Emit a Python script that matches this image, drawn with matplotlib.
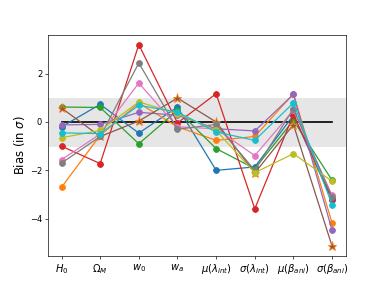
import numpy as np
import matplotlib
matplotlib.use('Agg')
import matplotlib.pyplot as plt

# parametri e bias (in sigma) per ciascun caso
params = [r'$H_0$', r'$\Omega_M$', r'$w_0$', r'$w_a$', r'$\mu(\lambda_{int})$',
          r'$\sigma(\lambda_{int})$', r'$\mu(\beta_{ani})$', r'$\sigma(\beta_{ani})$']

bias_blue   = [-0.20, 0.73, -0.46, 0.62, -2.00, -1.86, 0.28, -3.24]
bias_orange = [-2.70, -0.55, 0.78, -0.20, -0.76, -0.60, 1.17, -4.18]
bias_green  = [0.62, 0.60, -0.90, 0.48, -1.10, -1.93, 0.07, -2.41]
bias_red    = [-1.00, -1.72, 3.20, -0.04, 1.17, -3.59, 0.30, -3.17]
bias_purple = [-0.12, -0.10, 0.40, 0.28, -0.28, -0.37, 1.14, -4.48]
bias_brown  = [0.58, -0.60, 0.04, 0.99, 0.00, -2.11, -0.11, -5.14]
bias_pink   = [-1.56, -0.50, 1.61, -0.20, -0.28, -1.39, 0.48, -3.03]
bias_grey   = [-1.70, -0.60, 2.44, -0.30, -0.10, -2.00, 0.55, -3.10]
bias_olive  = [-0.65, -0.35, 0.83, 0.35, -0.35, -2.10, -1.31, -2.45]
bias_cyan   = [-0.45, -0.48, 0.69, 0.41, -0.41, -0.76, 0.79, -3.42]

all_bias = [bias_blue, bias_orange, bias_green, bias_red, bias_purple,
            bias_brown, bias_pink, bias_grey, bias_olive, bias_cyan]

x = np.arange(len(params))

fig, ax = plt.subplots(figsize=(6.4, 4.8), dpi=60)
ax.axhspan(-1, 1, color='0.9', zorder=0)
ax.plot([x[0], x[-1]], [0, 0], color='k', lw=2)

for i, b in enumerate(all_bias):
    if i == 5:
        ax.plot(x, b, '-*', color='C5', mfc='C5', mec='C1', ms=11, lw=1.5)
    else:
        ax.plot(x, b, '-o', color='C%d' % i, ms=7, lw=1.5)

ax.set_xticks(x)
ax.set_xticklabels(params, fontsize=12)
ax.set_ylabel(r'Bias (in $\sigma$)', fontsize=14)

plt.savefig('out.png', dpi=60)
